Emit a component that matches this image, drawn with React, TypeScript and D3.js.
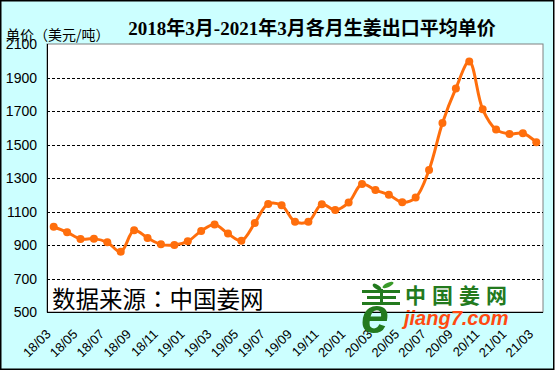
import React from "react";
import * as d3 from "d3";

const months: string[] = [
  "18/03","18/04","18/05","18/06","18/07","18/08","18/09","18/10","18/11","18/12",
  "19/01","19/02","19/03","19/04","19/05","19/06","19/07","19/08","19/09","19/10",
  "19/11","19/12","20/01","20/02","20/03","20/04","20/05","20/06","20/07","20/08",
  "20/09","20/10","20/11","20/12","21/01","21/02","21/03",
];
const prices: number[] = [
  1009, 976, 936, 938, 916, 860, 988, 942, 904, 900,
  922, 984, 1023, 968, 926, 1031, 1145, 1137, 1039, 1039,
  1143, 1109, 1153, 1264, 1228, 1200, 1155, 1183, 1348, 1628,
  1835, 1995, 1710, 1589, 1563, 1567, 1513,
];
const yTicks: number[] = [500, 700, 900, 1100, 1300, 1500, 1700, 1900, 2100];
const gridValues: number[] = [700, 900, 1100, 1300, 1500, 1700, 1900];
const titleText = "2018年3月-2021年3月各月生姜出口平均单价";
const unitText = "单价（美元/吨）";
const sourceA = "数据来源";
const sourceColon = "：";
const sourceB = "中国姜网";

const W = 556, H = 372;
const plot = { left: 47, right: 543, top: 44, bottom: 312 };
const ORANGE = "#ff6e0c";
const GREEN = "#237a1e";
const CJK = "'Noto Sans CJK SC', sans-serif";
const SANS = "'Liberation Sans', Arial, sans-serif";

export default function App() {
  const x = d3.scaleBand<number>().domain(d3.range(months.length)).range([plot.left, plot.right]).padding(0);
  const cx = (i: number) => (x(i) as number) + x.bandwidth() / 2;
  const y = d3.scaleLinear().domain([500, 2100]).range([plot.bottom, plot.top]);
  const line = d3.line<number>().x((_, i) => cx(i)).y((d) => y(d)).curve(d3.curveCatmullRom.alpha(0.5));

  return (
    <div style={{ position: "fixed", left: 0, top: 0, width: W, height: H, background: "#fff" }}>
      <svg width={W} height={H} style={{ display: "block" }}>
        <rect x={0.75} y={0.75} width={553} height={368.5} fill="#ccffff" stroke="#000" strokeWidth={1.5} />
        <rect x={plot.left} y={plot.top} width={plot.right - plot.left} height={plot.bottom - plot.top} fill="#fff" stroke="#808080" strokeWidth={1} />
        {gridValues.map((v) => (
          <line key={v} x1={plot.left} x2={plot.right} y1={Math.round(y(v)) + 0.5} y2={Math.round(y(v)) + 0.5} stroke="#000" strokeWidth={1} strokeDasharray="3,2" />
        ))}
        <line x1={plot.left + 0.5} x2={plot.left + 0.5} y1={plot.top} y2={plot.bottom} stroke="#000" />
        <line x1={plot.left} x2={plot.right} y1={plot.bottom + 0.5} y2={plot.bottom + 0.5} stroke="#000" />
        {yTicks.map((v) => (
          <text key={v} x={37} y={y(v)} dy="0.36em" textAnchor="end" fontFamily={SANS} fontSize={14} fill="#000">{v}</text>
        ))}
        {months.map((m, i) => i % 2 === 0 ? (
          <text key={m} transform={`translate(${cx(i) - 2.2},${plot.bottom + 23}) rotate(-45)`} textAnchor="end" fontFamily={SANS} fontSize={13} fill="#000">{m}</text>
        ) : null)}
        <text x={312} y={35} textAnchor="middle" fontFamily={`'Liberation Serif', 'Times New Roman', ${CJK}`} fontWeight="bold" fontSize={19} fill="#000">{titleText}</text>
        <text x={6} y={40} fontFamily={CJK} fontSize={14} fill="#000">{unitText}</text>
        <text x={52} y={307.5} fontFamily={CJK} fontSize={23.5} fill="#000">
          {sourceA}
          <tspan fontFamily="'Noto Sans CJK JP', sans-serif">{sourceColon}</tspan>
          {sourceB}
        </text>
        <path d={line(prices) || ""} fill="none" stroke={ORANGE} strokeWidth={3} />
        {prices.map((p, i) => (
          <circle key={i} cx={cx(i)} cy={y(p)} r={4} fill={ORANGE} />
        ))}
        <g>
          <ellipse cx={377} cy={287} rx={5} ry={2.2} fill={GREEN} transform="rotate(35 377 287)" />
          <ellipse cx={388} cy={285} rx={6} ry={2.2} fill="#3a9a2a" transform="rotate(-25 388 285)" />
          <rect x={362} y={290} width={38} height={3} fill={GREEN} />
          <rect x={367} y={296} width={29} height={3} fill={GREEN} />
          <rect x={362} y={302} width={38} height={3} fill={GREEN} />
          <rect x={380} y={289} width={3} height={16} fill={GREEN} />
          <text x={361} y={333} fontFamily={SANS} fontWeight="bold" fontStyle="italic" fontSize={50} fill={GREEN}>e</text>
          <text x={405} y={303} fontFamily={CJK} fontWeight="bold" fontSize={21} letterSpacing={6} fill={GREEN}>中国姜网</text>
          <text x={404} y={325} fontFamily={SANS} fontWeight="bold" fontStyle="italic" fontSize={20} fill="#ff4a10">jiang7.com</text>
        </g>
      </svg>
    </div>
  );
}
